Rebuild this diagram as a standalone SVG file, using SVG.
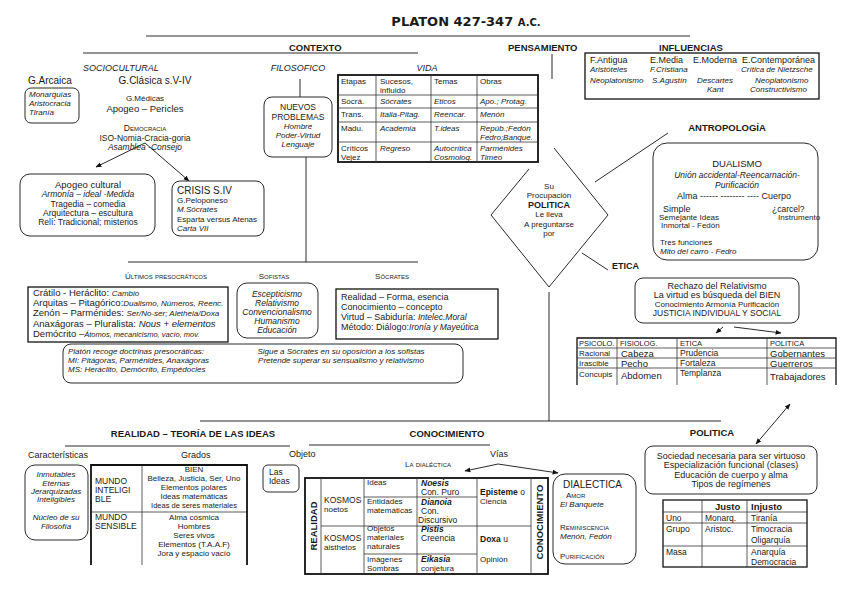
<svg xmlns="http://www.w3.org/2000/svg" width="848" height="599" viewBox="0 0 848 599">
<style>
text{font-family:"Liberation Sans",Arial,sans-serif;font-size:9px;fill:#1a1a1a}
.i{font-style:italic}
.b{font-weight:bold}
.h{font-weight:bold;font-size:9.5px}
.sc{font-variant:small-caps}
.s7{font-size:7.5px}
.s8{font-size:8px}
.s85{font-size:8.5px}
.s95{font-size:9.5px}
.s10{font-size:10px}
.c{text-anchor:middle}
.ln{stroke:#2a2a2a;stroke-width:1;fill:none}
.ar{stroke:#2a2a2a;stroke-width:1;fill:none;marker-end:url(#ah)}
.da{stroke:#2a2a2a;stroke-width:1;fill:none;marker-end:url(#ah);marker-start:url(#ah)}
.rb{fill:#fff;stroke:#2a2a2a;stroke-width:1}
.tk{fill:none;stroke:#111;stroke-width:1.8}
.md{fill:none;stroke:#111;stroke-width:1.3}
.gl{stroke:#333;stroke-width:0.8;fill:none}
</style>
<defs>
<marker id="ah" viewBox="0 0 10 10" refX="9" refY="5" markerWidth="6" markerHeight="6" orient="auto-start-reverse"><path d="M0,1 L10,5 L0,9 z" fill="#111"/></marker>
</defs>
<rect width="848" height="599" fill="#fff"/>

<g id="title"><text x="466" y="26" class="c" style="font-family:'DejaVu Sans',sans-serif;font-weight:bold;font-size:13px">PLATON 427-347 <tspan style="font-size:10px">A.C.</tspan></text></g>

<g id="connectors">
<path class="ln" d="M146,36 H690"/>
<path class="ln" d="M83,53 H418"/>
<path class="ln" d="M552,54 V79"/>
<path class="ln" d="M300,79 V97"/>
<path class="ln" d="M306,157 V262"/>
<path class="ln" d="M128,262 H418"/>
<path class="ar" d="M145,143 L96,167"/>
<path class="ar" d="M145,143 L189,181"/>
<path class="ln" d="M595,182 L668,133"/>
<path class="ln" d="M582,253 L608,270"/>
<path class="ln" d="M549,292 V421"/>
<path class="ln" d="M200,421 H721"/>
<path class="ln" d="M65,446 H290"/>
<path class="ln" d="M309,445 H490"/>
<path class="ar" d="M723,327 L716,333"/>
<path class="ar" d="M734,327 L781,333"/>
<path class="da" d="M790,404 L756,444"/>
<path class="ar" d="M498,464 L465,471"/>
<path class="ar" d="M498,464 L558,473"/>
</g>

<g id="contexto">
<text x="289" y="51" class="h">CONTEXTO</text>
</g>
<g id="pensamiento">
<text x="508" y="51" class="h">PENSAMIENTO</text>
</g>

<g id="g-arcaica">
<text x="83" y="71" class="i">SOCIOCULTURAL</text>
<text x="28" y="84" class="s10">G.Arcaica</text>
<rect x="25" y="88" width="54" height="35" rx="6" class="rb"/>
<text x="29" y="97" class="i s8">Monarquías</text>
<text x="29" y="106" class="i s8">Aristocracia</text>
<text x="29" y="115" class="i s8">Tiranía</text>
</g>

<g id="g-clasica">
<text x="155" y="84" class="c s10">G.Clásica s.V-IV</text>
<text x="145" y="101" class="c s8">G.Médicas</text>
<text x="145" y="112" class="c s95">Apogeo – Pericles</text>
<text x="145" y="131" class="c s85 sc">Democracia</text>
<text x="145" y="141" class="c s85">ISO-Nomia-Cracia-goria</text>
<text x="145" y="150" class="c s85 i">Asamblea -Consejo</text>
</g>

<g id="apogeo">
<rect x="20" y="174" width="135" height="62" rx="10" class="rb"/>
<text x="88" y="188" class="c s95">Apogeo cultural</text>
<text x="88" y="197" class="c s85 i">Armonía – ideal -Medida</text>
<text x="88" y="207" class="c s85">Tragedia – comedia</text>
<text x="88" y="216" class="c s85">Arquitectura – escultura</text>
<text x="88" y="225" class="c s85">Relí: Tradicional; misterios</text>
</g>

<g id="crisis">
<rect x="172" y="181" width="92" height="55" rx="8" class="rb"/>
<text x="177" y="194" class="s10">CRISIS S.IV</text>
<text x="177" y="203" class="s8">G.Peloponeso</text>
<text x="177" y="212" class="s8 i">M.Sócrates</text>
<text x="177" y="222" class="s8">Esparta versus Atenas</text>
<text x="177" y="231" class="s8 i">Carta VII</text>
</g>

<g id="filosofico">
<text x="298" y="71" class="c i">FILOSOFICO</text>
<rect x="264" y="97" width="68" height="60" rx="8" class="rb"/>
<text x="298" y="110" class="c s85">NUEVOS</text>
<text x="298" y="120" class="c s85">PROBLEMAS</text>
<text x="298" y="129" class="c i s8">Hombre</text>
<text x="298" y="138" class="c i s8">Poder-Virtud</text>
<text x="298" y="147" class="c i s8">Lenguaje</text>
</g>

<g id="vida">
<text x="427" y="71" class="c i">VIDA</text>
<rect x="338" y="75" width="200" height="87" class="tk"/>
<path class="gl" d="M376,75 V162 M431,75 V162 M477,75 V162 M338,95 H538 M338,108 H538 M338,122 H538 M338,142 H538"/>
<g class="s8">
<text x="341" y="84" class="s8">Etapas</text><text x="380" y="84" class="s8">Sucesos,</text><text x="380" y="93" class="s8">influido</text><text x="434" y="84" class="s8">Temas</text><text x="480" y="84" class="s8">Obras</text>
<text x="341" y="104" class="s8">Socrá.</text><text x="380" y="104" class="s8 i">Sócrates</text><text x="434" y="104" class="s8 i">Eticos</text><text x="480" y="104" class="s8 i">Apo.; Protag.</text>
<text x="341" y="117" class="s8">Trans.</text><text x="380" y="117" class="s8 i">Italia-Pitag.</text><text x="434" y="117" class="s8 i">Reencar.</text><text x="480" y="117" class="s8 i">Menón</text>
<text x="341" y="131" class="s8">Madu.</text><text x="380" y="131" class="s8 i">Academia</text><text x="434" y="131" class="s8 i">T.ideas</text><text x="480" y="131" class="s8 i">Repúb.;Fedón</text><text x="480" y="140" class="s8 i">Fedro;Banque.</text>
<text x="341" y="151" class="s8">Críticos</text><text x="341" y="160" class="s8">Vejez</text><text x="380" y="151" class="s8 i">Regreso</text><text x="434" y="151" class="s8 i">Autocrítica</text><text x="434" y="160" class="s8 i">Cosmolog.</text><text x="480" y="151" class="s8 i">Parménides</text><text x="480" y="160" class="s8 i">Timeo</text>
</g>
</g>

<g id="influencias">
<text x="691" y="51" class="c h">INFLUENCIAS</text>
<rect x="585" y="53" width="234" height="46" class="md"/>
<text x="590" y="63">F.Antigua</text><text x="650" y="63">E.Media</text><text x="693" y="63">E.Moderna</text><text x="742" y="63">E.Contemporánea</text>
<text x="590" y="72" class="i s8">Aristóteles</text><text x="650" y="72" class="i s8">F.Cristiana</text><text x="741" y="72" class="i s8">Crítica de Nietzsche</text>
<text x="590" y="83" class="i s8">Neoplatonismo</text><text x="652" y="83" class="i s8">S.Agustín</text><text x="697" y="83" class="i s8">Descartes</text><text x="755" y="83" class="i s8">Neoplatonismo</text>
<text x="707" y="92" class="i s8">Kant</text><text x="750" y="92" class="i s8">Constructivismo</text>
</g>

<g id="politica-diamond">
<path class="ln" d="M529,169 L491,215 L549,287 L608,215 L554,148"/>
<text x="549" y="189" class="c s8">Su</text>
<text x="549" y="198" class="c s8">Procupación</text>
<text x="549" y="208" class="c b">POLITICA</text>
<text x="549" y="217" class="c s8">Le lleva</text>
<text x="549" y="227" class="c s8">A preguntarse</text>
<text x="549" y="236" class="c s8">por</text>
</g>

<g id="antropologia">
<text x="727" y="131" class="c h">ANTROPOLOGÍA</text>
<rect x="653" y="143" width="165" height="117" rx="14" class="rb"/>
<text x="737" y="167" class="c s95">DUALISMO</text>
<text x="737" y="178" class="c i s85">Unión accidental-Reencarnación-</text>
<text x="737" y="188" class="c i s85">Purificación</text>
<text x="677" y="199">Alma ------ -------- ---- Cuerpo</text>
<text x="663" y="212">Simple</text><text x="772" y="212" class="s85">¿carcel?</text>
<text x="659" y="220" class="s8">Semejante Ideas</text><text x="778" y="220" class="s8">Instrumento</text>
<text x="661" y="228" class="s8">Inmortal - Fedón</text>
<text x="660" y="245" class="s8">Tres funciones</text>
<text x="660" y="254" class="s8 i">Mito del carro - Fedro</text>
</g>

<g id="presocraticos">
<text x="166" y="279" class="c s8 sc">Últimos presocráticos</text>
<rect x="28" y="287" width="200" height="55" class="md"/>
<text x="33" y="296" class="s95">Crátilo  - Heráclito: <tspan class="i s8">Cambio</tspan></text>
<text x="33" y="306" class="s95">Arquitas – Pitagórico:<tspan class="i s8">Dualismo, Números, Reenc.</tspan></text>
<text x="33" y="316" class="s95">Zenón – Parménides: <tspan class="i s8">Ser/No-ser; Aletheia/Doxa</tspan></text>
<text x="33" y="327" class="s95">Anaxágoras – Pluralista: <tspan class="i">Nous + elementos</tspan></text>
<text x="33" y="337" class="s95">Demócrito –<tspan class="i s7">Átomos, mecanicismo, vacío, mov.</tspan></text>
</g>

<g id="sofistas">
<text x="274" y="279" class="c s8 sc">Sofistas</text>
<rect x="237" y="283" width="81" height="55" rx="10" class="rb"/>
<text x="277" y="297" class="c i s85">Escepticismo</text>
<text x="277" y="306" class="c i s85">Relativismo</text>
<text x="277" y="315" class="c i s85">Convencionalismo</text>
<text x="277" y="324" class="c i s85">Humanismo</text>
<text x="277" y="333" class="c i s85">Educación</text>
</g>

<g id="socrates">
<text x="392" y="279" class="c s8 sc">Sócrates</text>
<rect x="336" y="289" width="162" height="50" class="md"/>
<text x="341" y="300">Realidad – Forma, esencia</text>
<text x="341" y="310">Conocimiento – concepto</text>
<text x="341" y="320">Virtud – Sabiduría: <tspan class="i s85">Intelec.Moral</tspan></text>
<text x="341" y="330">Método: Diálogo:<tspan class="i s85">Ironía y Mayeútica</tspan></text>
</g>

<g id="platon-recoge">
<rect x="63" y="344" width="400" height="39" rx="8" class="rb"/>
<text x="68" y="354" class="i s8">Platón recoge doctrinas presocráticas:</text>
<text x="68" y="363" class="i s8">MI: Pitágoras, Parménides, Anaxágoras</text>
<text x="68" y="372" class="i s8">MS: Heráclito, Demócrito, Empédocles</text>
<text x="341" y="354" class="c i s8">Sigue a Sócrates en su oposición a los sofistas</text>
<text x="341" y="363" class="c i s8">Pretende superar su sensualismo y relativismo</text>
</g>

<g id="etica">
<text x="612" y="269" class="b">ETICA</text>
<rect x="635" y="278" width="164" height="45" rx="8" class="rb"/>
<text x="717" y="289" class="c">Rechazo del Relativismo</text>
<text x="717" y="298" class="c">La virtud es búsqueda del BIEN</text>
<text x="717" y="307" class="c s8">Conocimiento  Armonía Purificación</text>
<text x="717" y="316" class="c s85">JUSTICIA INDIVIDUAL Y SOCIAL</text>
</g>

<g id="etica-tabla">
<path class="md" d="M577,385 V338 H836 V385"/>
<path class="gl" d="M617,338 V385 M677,338 V385 M767,338 V385 M577,348 H836 M577,358 H836 M577,368 H836"/>
<text x="579" y="346" class="s7">PSICOLO.</text><text x="620" y="346" class="s7">FISIOLOG.</text><text x="680" y="346" class="s7">ETICA</text><text x="770" y="346" class="s7">POLITICA</text>
<text x="579" y="356" class="s8">Racional</text><text x="621" y="357" class="s95">Cabeza</text><text x="680" y="356" class="s85">Prudencia</text><text x="770" y="357" class="s95">Gobernantes</text>
<text x="579" y="366" class="s8">Irascible</text><text x="621" y="367" class="s95">Pecho</text><text x="680" y="366" class="s85">Fortaleza</text><text x="770" y="367" class="s95">Guerreros</text>
<text x="579" y="377" class="s8">Concupis</text><text x="621" y="379" class="s95">Abdomen</text><text x="680" y="376" class="s85">Templanza</text><text x="770" y="380" class="s95">Trabajadores</text>
</g>

<g id="realidad">
<text x="193" y="437" class="c h">REALIDAD – TEORÍA DE LAS IDEAS</text>
<text x="28" y="458">Características</text>
<text x="181" y="458">Grados</text>
<rect x="25" y="465" width="63" height="75" rx="10" class="rb"/>
<text x="56" y="477" class="c i s8">Inmutables</text>
<text x="56" y="486" class="c i s8">Eternas</text>
<text x="56" y="494" class="c i s8">Jerarquizadas</text>
<text x="56" y="502" class="c i s8">Inteligibles</text>
<text x="56" y="520" class="c i s8">Núcleo de su</text>
<text x="56" y="529" class="c i s8">Filosofía</text>
</g>

<g id="grados">
<path class="tk" d="M91,565 V465 H247 V565"/>
<path class="gl" d="M142,465 V565 M91,512 H247"/>
<text x="95" y="484" class="s85">MUNDO</text><text x="95" y="493" class="s85">INTELIGI</text><text x="95" y="502" class="s85">BLE</text>
<text x="95" y="520" class="s85">MUNDO</text><text x="95" y="529" class="s85">SENSIBLE</text>
<text x="194" y="472" class="c s8">BIEN</text>
<text x="194" y="481" class="c s8">Belleza, Justicia, Ser, Uno</text>
<text x="194" y="490" class="c s8">Elementos polares</text>
<text x="194" y="499" class="c s8">Ideas matemáticas</text>
<text x="194" y="508" class="c s7">Ideas de seres materiales</text>
<text x="194" y="520" class="c s8">Alma cósmica</text>
<text x="194" y="529" class="c s8">Hombres</text>
<text x="194" y="538" class="c s8">Seres vivos</text>
<text x="194" y="547" class="c s8">Elementos (T.A.A.F)</text>
<text x="194" y="556" class="c s8">Jora y espacio vacío</text>
</g>

<g id="objeto">
<text x="289" y="457">Objeto</text>
<rect x="263" y="465" width="36" height="27" rx="5" class="rb"/>
<text x="269" y="475" class="s85">Las</text>
<text x="269" y="484" class="s85">Ideas</text>
</g>

<g id="conocimiento">
<text x="447" y="437" class="c h">CONOCIMIENTO</text>
<text x="490" y="457">Vías</text>
<text x="428" y="467" class="c s8 sc">La dialéctica</text>
<rect x="305" y="478" width="243" height="96" class="tk"/>
<path class="gl" d="M321,478 V574 M364,478 V574 M417,478 V574 M477,478 V574 M531,478 V574 M321,526 H531 M364,497 H477 M364,554 H477"/>
<text transform="translate(317,526) rotate(-90)" class="c b s95">REALIDAD</text>
<text transform="translate(543,522) rotate(-90)" class="c b s95">CONOCIMIENTO</text>
<text x="324" y="503" class="s85">KOSMOS</text><text x="324" y="512" class="s8">noetos</text>
<text x="324" y="541" class="s85">KOSMOS</text><text x="324" y="550" class="s8">aisthetos</text>
<text x="367" y="485" class="s8">Ideas</text>
<text x="367" y="504" class="s8">Entidades</text><text x="367" y="513" class="s8">matemáticas</text>
<text x="367" y="531" class="s8">Objetos</text><text x="367" y="540" class="s8">materiales</text><text x="367" y="549" class="s8">naturales</text>
<text x="367" y="562" class="s8">Imágenes</text><text x="367" y="571" class="s8">Sombras</text>
<text x="421" y="486" class="b i s85">Noesis</text><text x="421" y="495" class="s85">Con. Puro</text>
<text x="421" y="505" class="b i s85">Dianoia</text><text x="421" y="514" class="s85">Con.</text><text x="418" y="523" class="s85">Discursivo</text>
<text x="421" y="532" class="b i s85">Pistis</text><text x="421" y="541" class="s85">Creencia</text>
<text x="421" y="562" class="b i s85">Eikasia</text><text x="421" y="571" class="s8">conjetura</text>
<text x="480" y="495" class="s85"><tspan class="b">Episteme</tspan> o</text><text x="480" y="504" class="s8">Ciencia</text>
<text x="480" y="542" class="s85"><tspan class="b">Doxa</tspan> u</text><text x="480" y="562" class="s8">Opinión</text>
</g>

<g id="dialectica">
<rect x="553" y="474" width="83" height="90" rx="12" class="rb"/>
<text x="563" y="488" class="s10">DIALECTICA</text>
<text x="566" y="498" class="s8 sc">Amor</text>
<text x="560" y="507" class="s8 i">El Banquete</text>
<text x="560" y="530" class="s8 sc">Reminiscencia</text>
<text x="560" y="539" class="s8 i">Menón, Fedón</text>
<text x="560" y="559" class="s8 sc">Purificación</text>
</g>

<g id="politica">
<text x="712" y="436" class="c h">POLITICA</text>
<rect x="645" y="446" width="172" height="48" rx="8" class="rb"/>
<text x="731" y="459" class="c">Sociedad necesaria para ser virtuoso</text>
<text x="731" y="468" class="c">Especialización funcional (clases)</text>
<text x="731" y="478" class="c">Educación de cuerpo y alma</text>
<text x="731" y="487" class="c">Tipos de regímenes</text>
</g>

<g id="politica-tabla">
<rect x="663" y="500" width="144" height="67" class="md"/>
<path class="gl" d="M702,500 V567 M747,500 V567 M663,512 H807 M663,523 H807 M663,546 H807"/>
<text x="715" y="510" class="b s95">Justo</text><text x="751" y="510" class="b s95">Injusto</text>
<text x="666" y="521" class="s85">Uno</text><text x="705" y="521" class="s85">Monarq.</text><text x="751" y="521" class="s85">Tiranía</text>
<text x="666" y="532" class="s85">Grupo</text><text x="705" y="532" class="s85">Aristoc.</text><text x="751" y="532" class="s85">Timocracia</text><text x="751" y="543" class="s85">Oligarquía</text>
<text x="666" y="555" class="s85">Masa</text><text x="751" y="555" class="s85">Anarquía</text><text x="751" y="565" class="s85">Democracia</text>
</g>
</svg>
